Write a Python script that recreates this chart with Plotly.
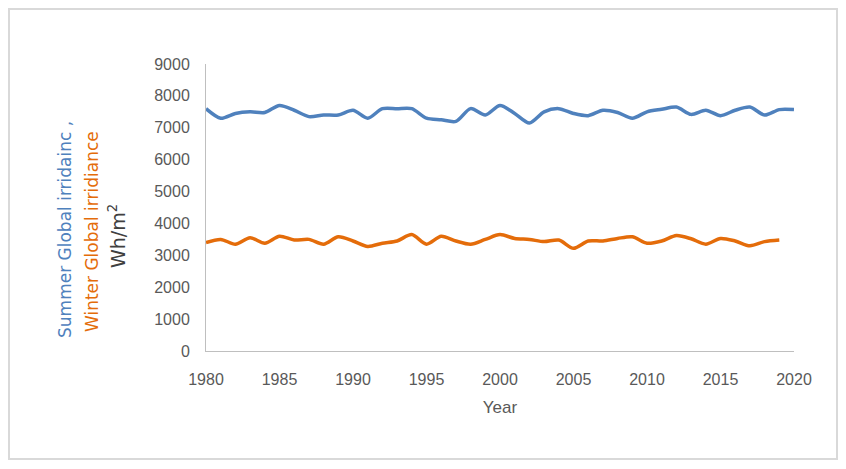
import plotly.graph_objects as go

years_summer = list(range(1980, 2021))
summer = [7600, 7300, 7450, 7500, 7480, 7700, 7550, 7350, 7400, 7400,
          7550, 7300, 7600, 7600, 7600, 7300, 7250, 7200, 7600, 7400,
          7700, 7450, 7150, 7500, 7600, 7450, 7380, 7550, 7480, 7300,
          7500, 7580, 7650, 7420, 7550, 7380, 7550, 7650, 7400, 7570, 7570]

years_winter = list(range(1980, 2020))
winter = [3400, 3500, 3350, 3550, 3380, 3600, 3480, 3500, 3350, 3580,
          3450, 3280, 3380, 3450, 3650, 3350, 3600, 3450, 3350, 3500,
          3650, 3530, 3500, 3430, 3480, 3220, 3450, 3450, 3530, 3580,
          3380, 3450, 3620, 3520, 3350, 3530, 3450, 3300, 3430, 3480]

x_ticks = list(range(1980, 2021, 5))
y_ticks = list(range(0, 9001, 1000))

BLUE = "#4F81BD"
ORANGE = "#E46C0A"
NARROW = "Liberation Sans Narrow, Arial Narrow, Liberation Sans, sans-serif"
TICKFONT = dict(family=NARROW, size=16, color="#595959")

# page body has an 8px margin; figure placed at (8, 8)
OFF = 8
W, H = 830, 453
L, R, T, B = 206 - OFF, OFF + W - 794, 64 - OFF, OFF + H - 351

fig = go.Figure()
fig.add_trace(go.Scatter(x=years_summer, y=summer, mode="lines",
                         line=dict(color=BLUE, width=3.5, shape="spline", smoothing=0.8),
                         name="Summer", showlegend=False))
fig.add_trace(go.Scatter(x=years_winter, y=winter, mode="lines",
                         line=dict(color=ORANGE, width=3.5, shape="spline", smoothing=0.8),
                         name="Winter", showlegend=False))

def ypaper(py):
    return (351 - py) / 287
def xpaper(px):
    return (px - 206) / 588

fig.update_layout(
    width=W, height=H,
    margin=dict(l=L, r=R, t=T, b=B),
    paper_bgcolor="white", plot_bgcolor="white",
    xaxis=dict(range=[1980, 2020], tickvals=x_ticks, showgrid=False, zeroline=False,
               showline=True, linecolor="#BFBFBF", linewidth=1,
               ticks="outside", ticklen=14, tickcolor="rgba(0,0,0,0)",
               tickfont=TICKFONT,
               title=dict(text="Year", font=dict(family=NARROW, size=17, color="#595959"), standoff=13)),
    yaxis=dict(range=[0, 9000], tickvals=y_ticks, showgrid=False, zeroline=False,
               showline=True, linecolor="#BFBFBF", linewidth=1,
               ticks="outside", ticklen=12, tickcolor="rgba(0,0,0,0)",
               tickfont=TICKFONT),
    shapes=[dict(type="rect", xref="paper", yref="paper",
                 x0=xpaper(9), x1=xpaper(837), y0=ypaper(459), y1=ypaper(9),
                 line=dict(color="#D9D9D9", width=2), fillcolor="rgba(0,0,0,0)")],
)

title_font = "DejaVu Sans, Verdana, sans-serif"
fig.add_annotation(text="Summer Global irridainc ,", xref="paper", yref="paper",
                   x=xpaper(65), y=ypaper(230), textangle=-90, showarrow=False,
                   font=dict(family=title_font, size=17, color=BLUE),
                   xanchor="center", yanchor="middle")
fig.add_annotation(text="Winter Global irridiance", xref="paper", yref="paper",
                   x=xpaper(92), y=ypaper(232), textangle=-90, showarrow=False,
                   font=dict(family=title_font, size=17, color=ORANGE),
                   xanchor="center", yanchor="middle")
fig.add_annotation(text="Wh/m<sup>2</sup>", xref="paper", yref="paper",
                   x=xpaper(117), y=ypaper(236), textangle=-90, showarrow=False,
                   font=dict(family=title_font, size=19, color="#404040"),
                   xanchor="center", yanchor="middle")

fig.write_html("out.html")
